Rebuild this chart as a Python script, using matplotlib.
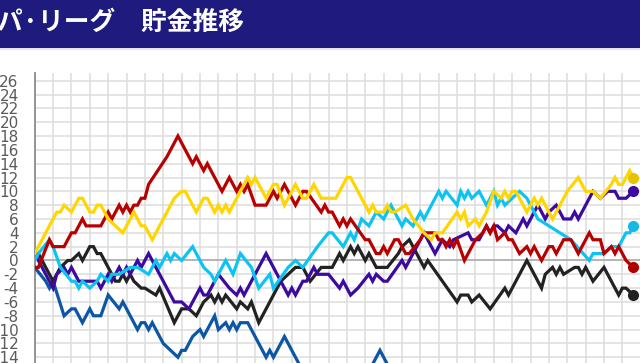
import matplotlib
matplotlib.use("Agg")
import matplotlib.pyplot as plt
from matplotlib.patches import Rectangle

plt.rcParams["axes.unicode_minus"] = False

# 貯金推移 (day, 貯金)
yellow_day = [0, 6, 7, 8, 10, 12, 13, 15, 16, 17, 18, 20, 24, 26, 27, 29, 30, 32, 35, 37, 38, 40, 41, 42, 44, 46, 47, 49, 50, 51, 52, 53, 58, 59, 60, 63, 65, 66, 68, 71, 73, 74, 76, 78, 82, 84, 85, 86, 88, 91, 92, 93, 95, 96, 97, 98, 101, 103, 106, 108, 109, 111, 115, 116, 117, 118, 120, 121, 123, 125, 127, 128, 129, 130, 131, 134, 136, 137, 138, 141, 145, 148, 150, 152, 154, 157, 158, 159, 160, 162, 163]
yellow_val = [1, 7, 7, 8, 7, 9, 9, 7, 7, 8, 8, 6, 4, 6, 7, 5, 5, 3, 6, 8, 9, 10, 10, 9, 7, 9, 9, 7, 8, 7, 8, 7, 12, 11, 12, 9, 11, 11, 8, 11, 9, 9, 11, 9, 9, 11, 12, 12, 10, 7, 8, 7, 7, 8, 7, 7, 8, 6, 4, 3, 4, 4, 7, 6, 7, 5, 6, 5, 7, 10, 9, 10, 9, 10, 10, 7, 9, 8, 9, 6, 10, 12, 10, 10, 9, 11, 12, 11, 11, 13, 12]

red_day = [0, 1, 4, 5, 8, 10, 11, 13, 14, 18, 20, 21, 23, 24, 25, 26, 27, 28, 29, 30, 31, 36, 37, 39, 41, 43, 44, 46, 47, 51, 53, 55, 56, 57, 58, 60, 63, 65, 66, 67, 68, 71, 73, 74, 78, 79, 80, 81, 83, 84, 85, 86, 90, 91, 93, 94, 95, 96, 98, 99, 100, 101, 102, 105, 106, 109, 110, 111, 112, 113, 114, 115, 117, 118, 119, 120, 122, 123, 124, 125, 126, 128, 129, 130, 131, 132, 134, 135, 136, 138, 140, 141, 142, 144, 146, 148, 151, 152, 154, 155, 157, 158, 159, 161, 163]
red_val = [-1, -1, 3, 2, 2, 4, 4, 6, 5, 5, 7, 6, 8, 7, 8, 7, 8, 8, 9, 9, 11, 15, 16, 18, 16, 14, 15, 13, 14, 10, 12, 10, 11, 10, 11, 8, 8, 10, 9, 10, 11, 8, 10, 10, 7, 8, 7, 7, 5, 6, 5, 6, 3, 3, 1, 1, 2, 1, 3, 3, 2, 1, 1, 3, 4, 4, 3, 3, 2, 3, 2, 3, 0, 1, 2, 3, 4, 5, 4, 5, 3, 4, 3, 3, 2, 1, 2, 1, 2, 0, 2, 2, 1, 3, 3, 1, 4, 3, 3, 1, 2, 1, 2, 0, -1]

cyan_day = [0, 1, 4, 5, 7, 10, 11, 12, 13, 15, 17, 18, 20, 21, 23, 26, 28, 31, 33, 34, 36, 37, 38, 40, 43, 46, 48, 49, 52, 54, 56, 59, 61, 64, 65, 69, 71, 73, 77, 80, 81, 84, 86, 87, 89, 91, 93, 95, 97, 98, 100, 101, 103, 105, 106, 110, 111, 112, 115, 116, 117, 118, 119, 121, 123, 125, 126, 127, 128, 130, 132, 134, 137, 140, 143, 146, 151, 152, 155, 157, 159, 161, 162, 163]
cyan_val = [0, 1, 3, 2, -1, -3, -3, -4, -3, -4, -3, -2, -3, -2, -2, -1, -1, -2, 0, -1, 1, 0, 1, 0, 2, -1, -2, -3, 0, -2, 1, -1, -4, -2, -4, -1, 0, -1, 2, 4, 4, 2, 4, 3, 6, 5, 7, 6, 8, 7, 5, 6, 5, 7, 6, 10, 9, 10, 8, 10, 9, 10, 9, 10, 8, 10, 8, 9, 8, 9, 10, 9, 6, 5, 4, 3, 0, 1, 1, 2, 2, 4, 4, 5]

purple_day = [0, 2, 5, 6, 8, 9, 10, 12, 17, 18, 20, 21, 23, 24, 25, 26, 28, 29, 31, 32, 35, 38, 40, 42, 45, 46, 47, 50, 53, 55, 56, 57, 63, 64, 67, 69, 70, 71, 73, 74, 76, 77, 80, 83, 84, 86, 88, 91, 92, 93, 95, 96, 100, 101, 106, 109, 111, 113, 114, 118, 119, 121, 123, 124, 125, 126, 128, 129, 131, 133, 134, 137, 139, 140, 142, 144, 146, 147, 148, 152, 154, 156, 158, 159, 161, 163]
purple_val = [1, -1, -4, -2, -1, -2, -1, -3, -3, -4, -2, -3, -1, -2, -1, -2, 0, -1, 1, 0, -3, -6, -6, -7, -4, -5, -5, -2, -4, -5, -4, -5, 1, 0, -3, -5, -4, -5, -3, -3, -1, -2, -2, -4, -3, -5, -4, -2, -3, -2, -3, -3, 0, -1, 4, 1, 3, 2, 3, 4, 3, 3, 5, 4, 5, 5, 4, 5, 4, 6, 5, 8, 6, 7, 8, 6, 6, 7, 6, 10, 9, 10, 10, 9, 9, 10]

black_day = [0, 1, 5, 7, 9, 10, 12, 13, 15, 16, 17, 18, 21, 22, 23, 24, 25, 26, 27, 29, 30, 33, 34, 38, 40, 42, 44, 46, 48, 49, 50, 51, 52, 55, 56, 58, 59, 61, 63, 65, 67, 69, 71, 73, 74, 75, 78, 81, 83, 84, 86, 87, 88, 90, 91, 93, 96, 99, 100, 102, 103, 106, 107, 111, 115, 116, 118, 119, 121, 124, 128, 129, 131, 134, 138, 139, 141, 142, 143, 144, 147, 148, 149, 150, 152, 155, 159, 160, 161, 163]
black_val = [1, 1, -3, -1, 0, 0, 1, 0, 2, 2, 1, 1, -2, -3, -3, -2, -3, -2, -3, -4, -4, -5, -4, -9, -7, -7, -8, -6, -5, -6, -5, -6, -5, -7, -6, -7, -6, -9, -7, -5, -3, -2, -1, -1, -2, -3, -1, -1, 1, 0, 2, 1, 2, 0, 1, -1, -1, 1, 2, 3, 2, -1, 0, -3, -6, -5, -5, -6, -5, -7, -4, -5, -3, 0, -4, -2, -1, -2, -1, -2, -1, -1, -2, -1, -3, -1, -5, -4, -4, -5]

blue_day = [0, 3, 4, 5, 8, 10, 11, 13, 15, 16, 18, 20, 23, 24, 28, 29, 30, 31, 32, 33, 35, 37, 39, 40, 41, 43, 45, 46, 47, 49, 50, 52, 53, 54, 55, 56, 58, 61, 63, 64, 65, 68, 70, 72, 75, 80, 86, 90, 92, 94, 96, 100, 110, 130, 150, 163]
blue_val = [-1, -3, -4, -3, -8, -7, -7, -9, -7, -8, -8, -5, -7, -6, -10, -9, -9, -10, -9, -10, -12, -13, -14, -13, -13, -11, -10, -11, -10, -8, -10, -9, -10, -9, -10, -9, -9, -12, -14, -13, -14, -11, -13, -15, -16, -17, -16, -15, -15, -13, -15, -17, -18, -20, -21, -22]

teams = [
    (blue_day, blue_val, "#0b57a6", None),
    (black_day, black_val, "#222222", "#222222"),
    (purple_day, purple_val, "#3c0a9e", "#3c0a9e"),
    (cyan_day, cyan_val, "#0cc4f2", "#18b8e6"),
    (red_day, red_val, "#b80000", "#b00000"),
    (yellow_day, yellow_val, "#ffd600", "#e6c300"),
]

fig = plt.figure(figsize=(6.4, 3.63), dpi=100)

# header bar
fig.patches.append(Rectangle((0, 1 - 48 / 363), 1, 48 / 363, transform=fig.transFigure,
                             facecolor="#1e1a7e", edgecolor="none", zorder=0))
fig.patches.append(Rectangle((0, 1 - 50 / 363), 1, 2 / 363, transform=fig.transFigure,
                             facecolor="#e4e4ee", edgecolor="none", zorder=0))
fig.text(-3 / 640, 1 - 22 / 363, "パ·リーグ　貯金推移", color="white", fontsize=18.5,
         fontweight="bold", family=["Noto Sans CJK JP", "DejaVu Sans"], va="center", ha="left")

ax = fig.add_axes([34.7 / 640, 0, 1 - 34.7 / 640, 1 - 72.7 / 363])
ax.set_xlim(0, 164.8)
ax.set_ylim(-14.83, 27.16)

for d, v, c, mc in teams:
    ax.plot(d, v, color=c, lw=2.3, solid_joinstyle="miter", zorder=3)
    if mc is not None:
        ax.plot(d[-1], v[-1], "o", color=mc, ms=7, zorder=4)

ax.set_yticks(range(-14, 27, 2))
ax.set_xticks(range(0, 165, 5))
ax.set_xticklabels([])
ax.grid(True, color="#dcdcdc", lw=1.1, zorder=1)
ax.axhline(0, color="#a8a8a8", lw=1.1, zorder=2)
ax.tick_params(axis="both", length=0)
ax.tick_params(axis="y", pad=11.5, labelsize=11, labelcolor="#5a5a5a")
for s in ["top", "right", "bottom"]:
    ax.spines[s].set_visible(False)
ax.spines["left"].set_color("#8c8c8c")
ax.spines["left"].set_linewidth(1.3)

fig.savefig("out.png", dpi=100)
